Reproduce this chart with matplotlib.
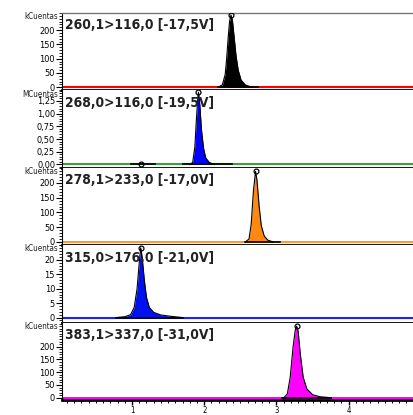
import matplotlib
matplotlib.use("Agg")
import matplotlib.pyplot as plt
from matplotlib import font_manager as fm
from matplotlib.ticker import MultipleLocator, FixedLocator, FuncFormatter

plt.rcParams['font.family'] = ['Liberation Sans', 'DejaVu Sans']

# transition labels
labels = ["260,1>116,0 [-17,5V]", "268,0>116,0 [-19,5V]", "278,1>233,0 [-17,0V]",
          "315,0>176,0 [-21,0V]", "383,1>337,0 [-31,0V]"]
units = ["kCuentas", "MCuentas", "kCuentas", "kCuentas", "kCuentas"]

# peak traces (time in min, intensity)
t1 = [2.19, 2.25, 2.29, 2.31, 2.33, 2.35, 2.37, 2.39, 2.42, 2.44, 2.47, 2.51, 2.57, 2.66]
y1 = [0, 8, 45, 100, 170, 230, 253, 235, 160, 110, 60, 25, 8, 0]
t2 = [1.80, 1.84, 1.87, 1.89, 1.91, 1.92, 1.94, 1.96, 1.99, 2.02, 2.07, 2.14]
y2 = [0, 0.04, 0.35, 0.85, 1.30, 1.42, 1.15, 0.70, 0.32, 0.13, 0.04, 0]
t3 = [2.57, 2.62, 2.65, 2.68, 2.71, 2.73, 2.76, 2.79, 2.83, 2.88, 2.95]
y3 = [0, 10, 60, 170, 239, 210, 120, 55, 20, 6, 0]
t4 = [0.78, 0.90, 0.98, 1.03, 1.07, 1.10, 1.12, 1.14, 1.17, 1.20, 1.24, 1.30, 1.40, 1.55, 1.70]
y4 = [0, 0.3, 1.0, 3.5, 10, 19, 24.2, 21, 13, 7, 3.5, 1.8, 0.9, 0.4, 0]
t5 = [3.10, 3.15, 3.19, 3.23, 3.26, 3.28, 3.30, 3.33, 3.37, 3.42, 3.50, 3.60, 3.76]
y5 = [0, 15, 80, 200, 265, 280, 260, 170, 80, 35, 12, 4, 0]

# integration baselines (start, end) per panel
int_segs = [[(2.19, 2.74)], [(0.99, 1.32), (1.71, 2.38)], [(2.57, 3.05)],
            [(0.78, 1.70)], [(3.07, 3.76)]]
# extra small peak marker in panel 2
small_peak_t = [1.13]
small_peak_y = [0.0]

traces = [(t1, y1), (t2, y2), (t3, y3), (t4, y4), (t5, y5)]
fills = ["black", "#0000ff", "#ff8811", "#0011ee", "#ff00ff"]
bases = ["#ff0000", "#3f9f3f", "#ff9933", "#1a22ff", "#ff00ff"]
ylims = [(-10.7, 260.7), (-0.064, 1.459), (-11.1, 251.5), (-1.75, 25.1), (-9, 294)]
yticks = [[0, 50, 100, 150, 200], [0, 0.25, 0.5, 0.75, 1.0, 1.25],
          [0, 50, 100, 150, 200], [0, 5, 10, 15, 20], [0, 50, 100, 150, 200]]
yminor = [10, 0.05, 10, 1, 10]


def pick_font(bold):
    # look for a narrow / condensed face, the reference uses a condensed sans
    found = None
    for f in fm.fontManager.ttflist:
        w = f.weight if isinstance(f.weight, int) else (700 if "bold" in str(f.weight) else 400)
        if bold != (w >= 600) or f.style != "normal":
            continue
        fn = f.fname
        if "Noto" in fn and "ExtraCondensed" in fn and "Extra" not in fn.replace("ExtraCondensed", ""):
            rank = 0
        elif "Noto" in fn and "Condensed" in fn and "Extra" not in fn and "Semi" not in fn:
            rank = 1
        elif "Liberation" in fn and "Narrow" in fn:
            rank = 2
        elif "Condensed" in fn or "Narrow" in fn or f.stretch in ("condensed", "semi-condensed"):
            rank = 3
        else:
            continue
        if bold and ("Black" in fn or "ExtraBold" in fn or "SemiBold" in fn):
            continue
        if not bold and ("Light" in fn or "Thin" in fn or "Medium" in fn):
            continue
        if found is None or rank < found[0]:
            found = (rank, fn)
    return found[1] if found else None


bold_path = pick_font(True)
reg_path = pick_font(False)
if bold_path:
    lab_fp = fm.FontProperties(fname=bold_path, size=12)
else:
    lab_fp = fm.FontProperties(family="Liberation Sans", weight="bold", size=10)
if reg_path:
    tick_fp = fm.FontProperties(fname=reg_path, size=6.6)
    unit_fp = fm.FontProperties(fname=reg_path, size=5.8)
    xt_fp = fm.FontProperties(fname=reg_path, size=5.5)
else:
    tick_fp = fm.FontProperties(family="Liberation Sans", size=6.2)
    unit_fp = fm.FontProperties(family="Liberation Sans", size=5.4)
    xt_fp = fm.FontProperties(family="Liberation Sans", size=5)

fig, axes = plt.subplots(5, 1, figsize=(4.13, 4.15), dpi=100, sharex=True)
plt.subplots_adjust(left=0.15, right=1.0, top=0.969, bottom=0.036, hspace=0)

label_texts = []
for i, ax in enumerate(axes):
    t, y = traces[i]
    ax.axhline(0, color=bases[i], lw=1.5, zorder=1)
    ax.fill_between(t, 0, y, color=fills[i], zorder=2, lw=0)
    ax.plot(t, y, color="black", lw=0.8, zorder=3)
    for a, b in int_segs[i]:
        ax.plot([a, b], [0, 0], color="black", lw=1.2, zorder=3)
    k = y.index(max(y))
    ax.plot([t[k]], [y[k]], marker="o", ms=3.5, mfc="none", mec="black", mew=0.9, zorder=4)
    if i == 1:
        ax.plot(small_peak_t, small_peak_y, marker="o", ms=3.5, mfc="none",
                mec="black", mew=0.9, zorder=4, ls="none")

    ax.set_xlim(0.03, 4.89)
    ax.set_ylim(*ylims[i])
    ax.yaxis.set_major_locator(FixedLocator(yticks[i]))
    ax.yaxis.set_minor_locator(MultipleLocator(yminor[i]))
    if i == 1:
        ax.yaxis.set_major_formatter(FuncFormatter(lambda v, p: f"{v:.2f}".replace(".", ",")))
    ax.tick_params(axis="y", which="major", length=4, width=0.8, pad=1)
    ax.tick_params(axis="y", which="minor", length=2, width=0.6)
    for lb in ax.get_yticklabels():
        lb.set_fontproperties(tick_fp)

    ax.spines["right"].set_visible(False)
    ax.spines["bottom"].set_linewidth(2)
    if i == 0:
        ax.spines["top"].set_color("#777777")
        ax.spines["top"].set_linewidth(1)
    else:
        ax.spines["top"].set_visible(False)

    ax.text(-0.012, 1.01, units[i], transform=ax.transAxes, ha="right", va="top",
            fontproperties=unit_fp, color="#222222", zorder=6, clip_on=False)
    txt = ax.text(0.01, 0.93, labels[i], transform=ax.transAxes, ha="left", va="top",
                  fontproperties=lab_fp, color="#222222", zorder=5)
    label_texts.append(txt)

    if i < 4:
        ax.tick_params(axis="x", which="both", bottom=False, labelbottom=False)

ax = axes[-1]
ax.xaxis.set_major_locator(MultipleLocator(1))
ax.xaxis.set_minor_locator(MultipleLocator(0.1))
ax.tick_params(axis="x", which="major", length=3.5, width=1, pad=0.5)
ax.tick_params(axis="x", which="minor", length=2, width=0.7)
for lb in ax.get_xticklabels():
    lb.set_fontproperties(xt_fp)

# fit label width close to the reference (~135 px wide, but keep it legible)
r = fig.canvas.get_renderer()
wmax = max(tx.get_window_extent(r).width for tx in label_texts)
size = min(12.5, 12 * 150 / wmax)
for tx in label_texts:
    tx.set_fontsize(size)

plt.savefig("out.png", dpi=100)
